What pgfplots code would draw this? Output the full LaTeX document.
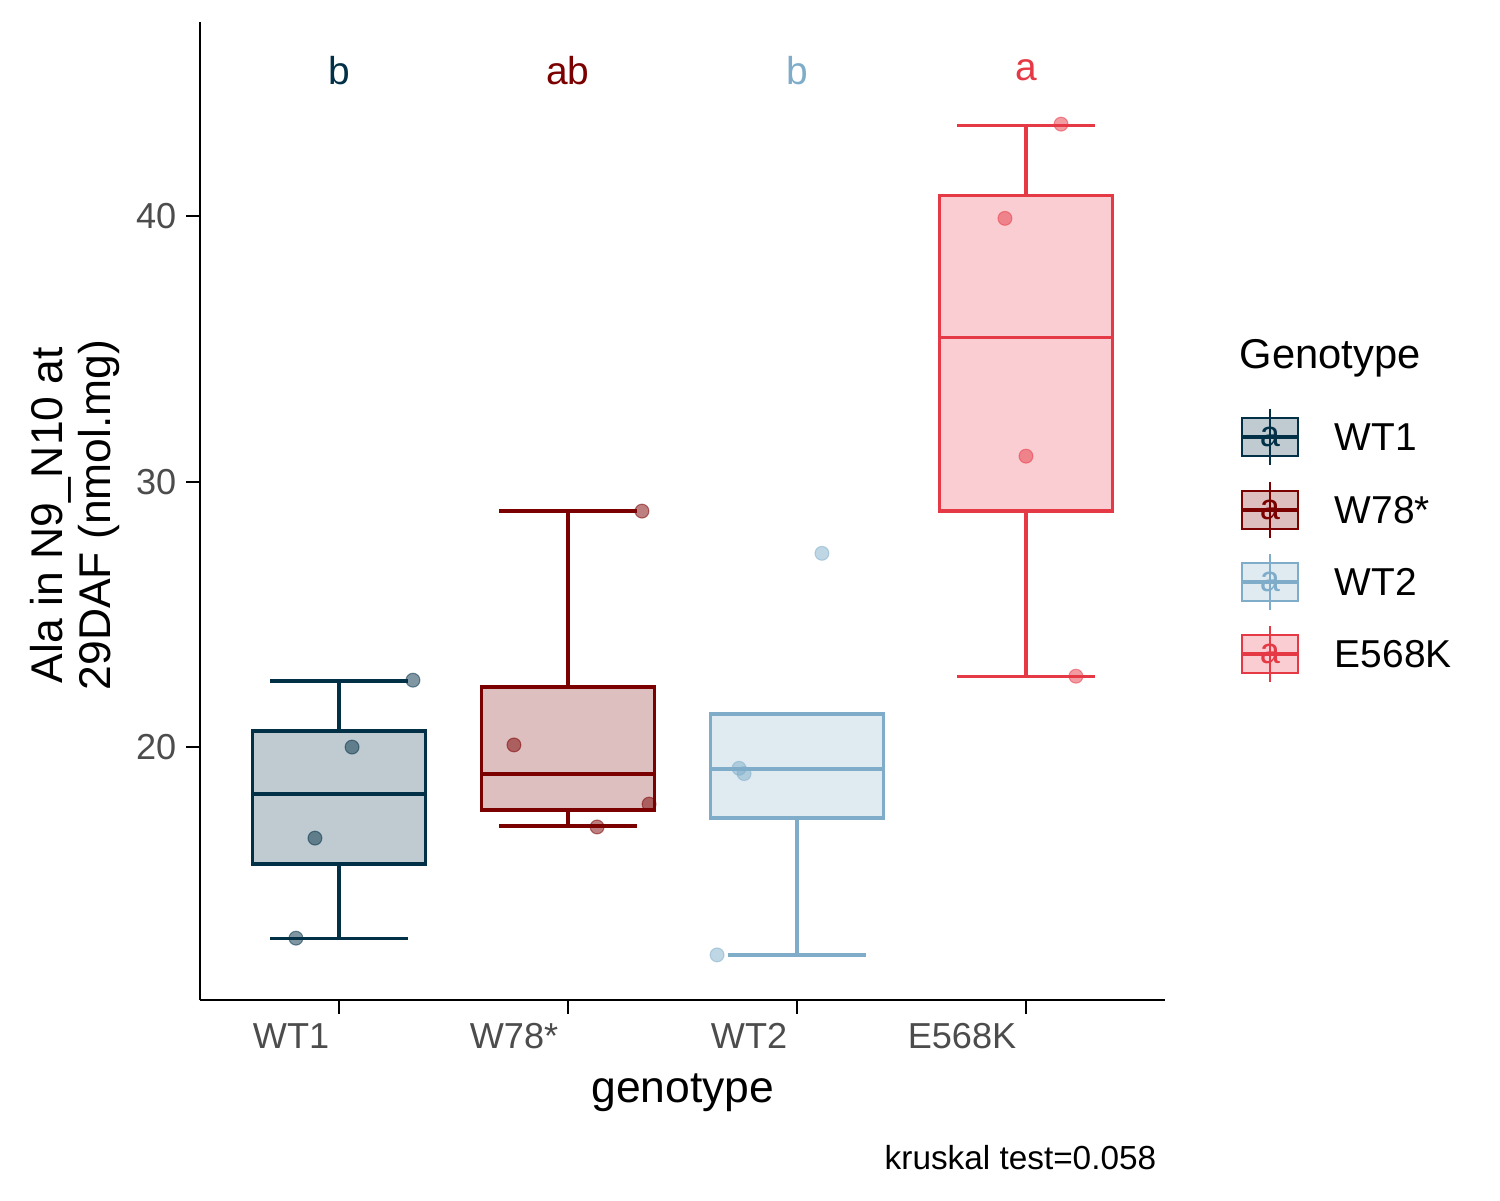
\documentclass[border=0pt]{standalone}
\usepackage{pgfplots}
\pgfplotsset{compat=1.18}
\usepgfplotslibrary{statistics}
\usepackage{fontspec}
\setmainfont{Liberation Sans}
\definecolor{c1}{HTML}{023047}
\definecolor{c2}{HTML}{7B0000}
\definecolor{c3}{HTML}{7FADC9}
\definecolor{c4}{HTML}{E63946}
\newcommand{\PX}[2]{({((#1)-200)*0.36pt},{(1000-(#2))*0.36pt})}
\begin{document}
\begin{tikzpicture}
\useasboundingbox (-72pt,-72pt) rectangle (468pt,360pt);
\begin{axis}[at={(0,0)},anchor=south west,scale only axis,
 width=347.4pt,height=352pt,
 xmin=0.393,xmax=4.607,ymin=10.47,ymax=47.31,
 axis x line=bottom, axis y line=left, axis line style={-,thick},
 xtick={1,2,3,4}, xticklabels={WT1,W78*,WT2,E568K},
 ytick={20,30,40}, tick align=outside, major tick length=5pt,
 tick style={thick,black},
 /pgf/number format/assume math mode=true,
 ticklabel style={font=\fontsize{13}{15}\selectfont, text=black!70},
 xticklabel style={anchor=north east, xshift=0pt},
 boxplot/draw direction=y, boxplot/box extend=0.755,
 clip=false]
\addplot+[boxplot prepared={median=18.23,upper quartile=20.6,lower quartile=15.6,upper whisker=22.49,lower whisker=12.8,draw position=1},draw=c1,fill=c1,fill opacity=0.25,draw opacity=1,very thick,mark=none] coordinates {};
\addplot+[boxplot prepared={median=18.98,upper quartile=22.26,lower quartile=17.63,upper whisker=28.89,lower whisker=17.02,draw position=2},draw=c2,fill=c2,fill opacity=0.25,draw opacity=1,very thick,mark=none] coordinates {};
\addplot+[boxplot prepared={median=19.17,upper quartile=21.24,lower quartile=17.33,upper whisker=21.24,lower whisker=12.17,draw position=3},draw=c3,fill=c3,fill opacity=0.25,draw opacity=1,very thick,mark=none] coordinates {};
\addplot+[boxplot prepared={median=35.44,upper quartile=40.79,lower quartile=28.89,upper whisker=43.43,lower whisker=22.67,draw position=4},draw=c4,fill=c4,fill opacity=0.25,draw opacity=1,very thick,mark=none] coordinates {};
\addplot[only marks,mark=*,mark size=2.5pt,c1,opacity=0.5] coordinates {(0.812,12.8)(0.895,16.57)(1.057,20.0)(1.323,22.52)};
\addplot[only marks,mark=*,mark size=2.5pt,c2,opacity=0.5] coordinates {(1.764,20.08)(2.127,16.99)(2.323,28.89)(2.354,17.85)};
\addplot[only marks,mark=*,mark size=2.5pt,c3,opacity=0.5] coordinates {(2.651,12.17)(2.747,19.2)(2.769,19.0)(3.109,27.3)};
\addplot[only marks,mark=*,mark size=2.5pt,c4,opacity=0.5] coordinates {(3.908,39.92)(4.0,30.96)(4.153,43.47)(4.218,22.67)};
\node[c1,font=\fontsize{14}{16}\selectfont] at (axis cs:1,45.5) {b};
\node[c2,font=\fontsize{14}{16}\selectfont] at (axis cs:2,45.5) {ab};
\node[c3,font=\fontsize{14}{16}\selectfont] at (axis cs:3,45.5) {b};
\node[c4,font=\fontsize{14}{16}\selectfont] at (axis cs:4,45.5) {a};
\end{axis}
\node[font=\fontsize{16}{18}\selectfont] at \PX{683}{1093} {genotype};
\node[anchor=east,font=\fontsize{12}{14}\selectfont] at \PX{1166}{1158} {kruskal test=0.058};
\node[rotate=90,align=center,font=\fontsize{16}{17}\selectfont] at \PX{75}{515} {Ala in N9\_N10 at\\29DAF (nmol.mg)};
\node[anchor=west,font=\fontsize{15}{17}\selectfont] at \PX{1230}{358} {Genotype};
\foreach \y/\c/\t in {437/c1/WT1,510/c2/W78*,582/c3/WT2,654/c4/E568K}{
 \draw[\c,thick] \PX{1270}{\y-28} -- \PX{1270}{\y+28};
 \draw[\c,thick,fill=\c,fill opacity=0.25] \PX{1242}{\y-19} rectangle \PX{1298}{\y+19};
 \draw[\c,very thick] \PX{1242}{\y} -- \PX{1298}{\y};
 \node[\c,font=\fontsize{13}{15}\selectfont] at \PX{1270}{\y} {a};
 \node[anchor=west,font=\fontsize{14}{16}\selectfont] at \PX{1325}{\y} {\t};
}
\end{tikzpicture}
\end{document}
